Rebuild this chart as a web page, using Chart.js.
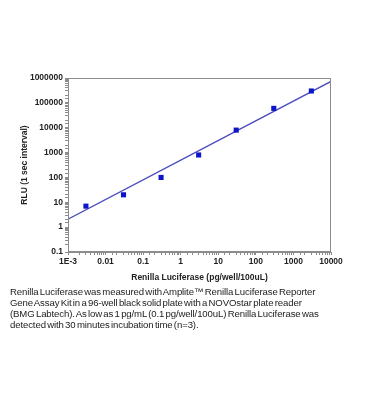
<!DOCTYPE html>
<html>
<head>
<meta charset="utf-8">
<script src="https://cdn.jsdelivr.net/npm/chart.js@4"></script>
<style>
  html, body { margin: 0; padding: 0; background: #fff; }
  #wrap { position: absolute; left: 0; top: 0; width: 369px; height: 290px; }
  #caption {
    position: absolute; left: 10px; top: 286px; width: 340px;
    font-family: "Liberation Sans", Arial, sans-serif; font-size: 9.6px;
    line-height: 11.1px; color: #222; letter-spacing: -0.12px; word-spacing: -1.2px;
    white-space: nowrap;
  }
</style>
</head>
<body>
<div id="wrap"><canvas id="lucChart"></canvas></div>
<div id="caption">
Renilla Luciferase was measured with Amplite™ Renilla Luciferase Reporter<br>
Gene Assay Kit in a 96-well black solid plate with a NOVOstar plate reader<br>
(BMG Labtech). As low as 1 pg/mL (0.1 pg/well/100uL) Renilla Luciferase was<br>
detected with 30 minutes incubation time (n=3).
</div>
<script>
// measured points (pg/well/100uL vs RLU)
const concentrations = [0.003, 0.03, 0.3, 3, 30, 300, 3000];
const rlu = [7, 20, 100, 800, 8000, 60000, 300000];

// fitted line end points
const fitX = [0.001, 10000];
const fitY = [2.1, 730000];

const xTickLabels = ['1E-3', '0.01', '0.1', '1', '10', '100', '1000', '10000'];
const yTickLabels = ['0.1', '1', '10', '100', '1000', '10000', '100000', '1000000'];

const axisGray = '#8c8c8c';
const tickFont = { family: '"Liberation Sans", Arial, sans-serif', size: 8.5, weight: 'bold' };

function decadeLabel(labels, minExp) {
  return function (value) {
    const e = Math.log10(value);
    if (Math.abs(e - Math.round(e)) > 1e-6) return '';
    return labels[Math.round(e) - minExp] ?? '';
  };
}

const frame = {
  id: 'frame',
  afterDraw(chart) {
    const { ctx, chartArea: a } = chart;
    ctx.save();
    ctx.strokeStyle = axisGray;
    ctx.lineWidth = 1;
    ctx.strokeRect(a.left + 0.5, a.top + 0.5, a.right - a.left - 1, a.bottom - a.top - 1);
    ctx.restore();
  }
};

new Chart(document.getElementById('lucChart'), {
  data: {
    datasets: [
      {
        type: 'line',
        data: fitX.map((x, i) => ({ x, y: fitY[i] })),
        borderColor: '#4b4bbf',
        borderWidth: 1.3,
        pointRadius: 0,
        fill: false,
        order: 2
      },
      {
        type: 'scatter',
        data: concentrations.map((x, i) => ({ x, y: rlu[i] })),
        pointStyle: 'rect',
        pointRadius: 3.6,
        backgroundColor: '#0d15c9',
        borderColor: '#0d15c9',
        borderWidth: 0,
        order: 1
      }
    ]
  },
  options: {
    responsive: true,
    maintainAspectRatio: false,
    animation: false,
    layout: { padding: { top: 78, right: 38, left: 0, bottom: 0 } },
    plugins: { legend: { display: false }, tooltip: { enabled: false } },
    scales: {
      x: {
        type: 'logarithmic',
        min: 0.001,
        max: 10000,
        afterFit: s => { s.height = 38; },
        border: { color: axisGray },
        grid: { drawOnChartArea: false, tickLength: 3, color: axisGray },
        ticks: {
          autoSkip: false, maxRotation: 0, padding: 2, color: '#222',
          font: tickFont, callback: decadeLabel(xTickLabels, -3)
        },
        title: {
          display: true, text: 'Renilla Luciferase (pg/well/100uL)', color: '#222',
          font: tickFont, padding: { top: 0, bottom: 7 }
        }
      },
      y: {
        type: 'logarithmic',
        min: 0.1,
        max: 1000000,
        afterFit: s => { s.width = 68; },
        border: { color: axisGray },
        grid: { drawOnChartArea: false, tickLength: 3, color: axisGray },
        ticks: {
          autoSkip: false, padding: 2, color: '#222',
          font: tickFont, callback: decadeLabel(yTickLabels, -1)
        },
        title: {
          display: true, text: 'RLU (1 sec interval)', color: '#222',
          font: tickFont, padding: { top: 20, bottom: 0 }
        }
      }
    }
  },
  plugins: [frame]
});
</script>
</body>
</html>
